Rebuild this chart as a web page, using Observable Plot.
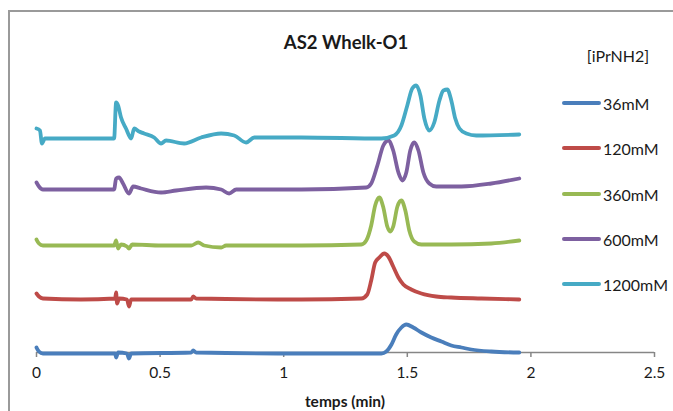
<!DOCTYPE html>
<html>
<head>
<meta charset="utf-8">
<script src="https://cdn.jsdelivr.net/npm/d3@7"></script>
<script src="https://cdn.jsdelivr.net/npm/@observablehq/plot@0.6"></script>
<style>
  html, body { margin: 0; padding: 0; background: #fff; }
  #wrap { position: relative; width: 673px; height: 411px; overflow: hidden; font-family: Lato, "Open Sans", sans-serif; color: #1a1a1a; }
  #border { position: absolute; left: 8px; top: 10px; width: 720px; height: 460px; border: 2px solid #9a9a9a; box-sizing: border-box; }
  #chart { position: absolute; left: 0; top: 0; }
  .ov { position: absolute; white-space: nowrap; }
  #title { left: 346px; top: 42px; transform: translate(-50%, -50%); font-weight: bold; font-size: 18.5px; }
  #xlabel { left: 345px; top: 401px; transform: translate(-50%, -50%); font-weight: bold; font-size: 15.5px; }
  #legend-title { left: 618px; top: 55px; transform: translate(-50%, -50%); font-size: 16px; }
  .leg { position: absolute; left: 562px; height: 20px; display: flex; align-items: center; font-size: 16px; transform: translateY(-50%); }
  .leg .sw { width: 39px; height: 4px; border-radius: 2px; margin-right: 2px; }
</style>
</head>
<body>
<div id="wrap">
  <div id="border"></div>
  <div id="chart"></div>
  <div id="title" class="ov">AS2 Whelk-O1</div>
  <div id="xlabel" class="ov">temps (min)</div>
  <div id="legend-title" class="ov">[iPrNH2]</div>
  <div id="legend"></div>
</div>
<script>
// Series names and colours
const seriesNames = ["36mM", "120mM", "360mM", "600mM", "1200mM"];
const seriesColors = ["#4A7EBB", "#BE4B48", "#98B954", "#7D60A0", "#46AAC5"];

// x tick labels
const xTicks = [0, 0.5, 1, 1.5, 2, 2.5];

// 36mM : time (min) and signal (offset arbitrary units)
const t36 = [0, 0.010, 0.026, 0.180, 0.318, 0.322, 0.330, 0.366, 0.374, 0.383, 0.626, 0.634, 0.646, 1.071, 1.395, 1.415, 1.436, 1.455, 1.476, 1.496, 1.524, 1.557, 1.597, 1.638, 1.678, 1.719, 1.759, 1.840, 1.953];
const v36 = [5, 1, -1, -1, -1, -5, 0, -1, -6, -1, 0, 2, 0, -1, -1, 1, 8, 18, 25, 28, 25, 20, 15, 11, 7, 5, 3, 1, 0];

// 120mM
const t120 = [0, 0.010, 0.026, 0.180, 0.318, 0.322, 0.326, 0.334, 0.366, 0.374, 0.383, 0.626, 0.634, 0.646, 1.071, 1.314, 1.338, 1.354, 1.370, 1.387, 1.407, 1.423, 1.443, 1.464, 1.484, 1.516, 1.557, 1.617, 1.678, 1.800, 1.953];
const v120 = [59, 56, 54, 53, 54, 60, 49, 54, 53, 46, 53, 53, 56, 54, 53, 54, 58, 72, 90, 95, 99, 96, 86, 75, 68, 63, 59, 56, 55, 54, 53];

// 360mM
const t360 = [0, 0.010, 0.026, 0.180, 0.314, 0.322, 0.330, 0.342, 0.366, 0.374, 0.387, 0.504, 0.626, 0.654, 0.678, 0.747, 0.767, 1.071, 1.314, 1.334, 1.354, 1.370, 1.387, 1.403, 1.419, 1.431, 1.443, 1.460, 1.476, 1.492, 1.508, 1.528, 1.557, 1.678, 1.840, 1.953];
const v360 = [113, 109, 107, 107, 107, 112, 104, 108, 106, 104, 108, 107, 107, 110, 107, 105, 107, 107, 108, 112, 127, 147, 155, 145, 126, 121, 126, 146, 152, 142, 122, 111, 108, 108, 109, 112];

// 600mM
const t600 = [0, 0.010, 0.026, 0.180, 0.314, 0.322, 0.334, 0.350, 0.374, 0.391, 0.423, 0.504, 0.565, 0.686, 0.747, 0.779, 0.808, 1.071, 1.334, 1.354, 1.379, 1.403, 1.423, 1.443, 1.464, 1.480, 1.496, 1.512, 1.528, 1.545, 1.565, 1.589, 1.617, 1.719, 1.840, 1.953];
const v600 = [170, 166, 163, 163, 163, 174, 175, 169, 159, 166, 164, 160, 162, 165, 163, 159, 163, 163, 165, 169, 187, 207, 212, 202, 180, 172, 180, 202, 210, 202, 180, 169, 166, 166, 169, 174];

// 1200mM
const t1200 = [0, 0.014, 0.022, 0.034, 0.180, 0.314, 0.322, 0.330, 0.342, 0.362, 0.383, 0.395, 0.415, 0.435, 0.476, 0.504, 0.524, 0.597, 0.666, 0.747, 0.800, 0.848, 0.881, 1.071, 1.395, 1.447, 1.476, 1.500, 1.520, 1.536, 1.553, 1.569, 1.589, 1.609, 1.630, 1.646, 1.662, 1.678, 1.694, 1.711, 1.739, 1.779, 1.953];
const v1200 = [224, 222, 209, 214, 214, 214, 250, 247, 235, 224, 214, 224, 221, 219, 215, 209, 212, 209, 215, 219, 217, 210, 215, 215, 214, 217, 227, 247, 264, 267, 257, 234, 222, 230, 252, 262, 263, 252, 234, 224, 219, 217, 218];

const times = [t36, t120, t360, t600, t1200];
const values = [v36, v120, v360, v600, v1200];

const data = [];
seriesNames.forEach((name, i) => {
  times[i].forEach((t, j) => data.push({series: name, t, v: values[i][j]}));
});

const plot = Plot.plot({
  width: 673,
  height: 411,
  marginLeft: 36,
  marginRight: 19,
  marginTop: 12,
  marginBottom: 59,
  style: {fontFamily: "Lato, 'Open Sans', sans-serif", fontSize: "15.5px", color: "#1a1a1a", background: "transparent"},
  x: {domain: [0, 2.5]},
  y: {domain: [0, 340], axis: null},
  color: {domain: seriesNames, range: seriesColors},
  marks: [
    Plot.ruleY([0], {stroke: "#868686", strokeWidth: 1.5}),
    Plot.axisX({ticks: xTicks, tickFormat: d => String(d), tickSize: 5, tickPadding: 9, stroke: "#868686", strokeWidth: 1.5, label: null, fill: "#1a1a1a"}),
    Plot.line(data, {x: "t", y: "v", z: "series", stroke: "series", strokeWidth: 3.8, curve: "monotone-x", strokeLinecap: "round", strokeLinejoin: "round"})
  ]
});
document.getElementById("chart").appendChild(plot);

// Legend (HTML)
const legendY = [103, 148, 194, 239, 284];
const leg = document.getElementById("legend");
seriesNames.forEach((name, i) => {
  const d = document.createElement("div");
  d.className = "leg";
  d.style.top = legendY[i] + "px";
  d.innerHTML = `<span class="sw" style="background:${seriesColors[i]}"></span><span>${name}</span>`;
  leg.appendChild(d);
});
</script>
</body>
</html>
